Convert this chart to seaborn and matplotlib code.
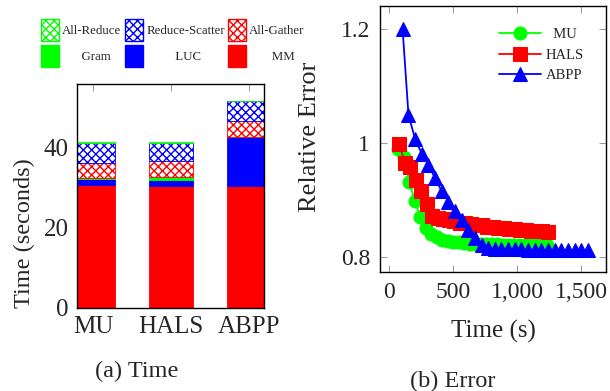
import numpy as np
import pandas as pd
import matplotlib
matplotlib.use("Agg")
import matplotlib.pyplot as plt
from matplotlib.patches import Patch
from matplotlib.ticker import FuncFormatter
import seaborn as sns

# ---------------- data ----------------
categories = ["MU", "HALS", "ABPP"]
mm = [30.8, 30.5, 30.4]
luc = [1.4, 1.5, 12.3]
gram = [0.2, 0.8, 0.1]
all_gather = [3.9, 3.9, 3.9]
reduce_scatter = [5.0, 4.6, 5.0]
all_reduce = [0.2, 0.2, 0.1]

mu_t = [70, 113, 156, 199, 242, 285, 328, 371, 414, 457, 500, 543, 586, 629,
        672, 715, 758, 801, 844, 887, 930, 973, 1016, 1059, 1102, 1145, 1188, 1231]
mu_err = [0.990, 0.976, 0.932, 0.898, 0.870, 0.851, 0.840, 0.834, 0.830, 0.828,
          0.826, 0.825, 0.824, 0.823, 0.823, 0.822, 0.822, 0.822, 0.822, 0.821,
          0.821, 0.821, 0.821, 0.821, 0.820, 0.820, 0.820, 0.820]
hals_t = [78, 121, 164, 207, 250, 293, 336, 379, 422, 465, 508, 551, 594, 637,
          680, 723, 766, 809, 852, 895, 938, 981, 1024, 1067, 1110, 1153, 1196, 1239]
hals_err = [0.998, 0.965, 0.958, 0.935, 0.915, 0.892, 0.872, 0.868, 0.866, 0.864,
            0.862, 0.860, 0.859, 0.857, 0.856, 0.855, 0.853, 0.852, 0.851, 0.850,
            0.849, 0.848, 0.847, 0.847, 0.846, 0.845, 0.845, 0.844]
abpp_t = [104, 150, 202, 254, 306, 358, 410, 462, 514, 566, 618, 670, 722, 774,
          826, 878, 930, 982, 1034, 1086, 1138, 1190, 1242, 1294, 1346, 1398,
          1450, 1502, 1554]
abpp_err = [1.200, 1.049, 1.007, 0.981, 0.961, 0.938, 0.915, 0.897, 0.880, 0.864,
            0.847, 0.833, 0.821, 0.815, 0.814, 0.814, 0.813, 0.813, 0.813, 0.812,
            0.812, 0.812, 0.812, 0.811, 0.811, 0.811, 0.811, 0.811, 0.811]

# ---------------- style ----------------
sns.set_style("ticks")
plt.rcParams["font.family"] = ["Liberation Serif", "DejaVu Serif"]
plt.rcParams["hatch.linewidth"] = 1.0
plt.rcParams["axes.linewidth"] = 1.0

GREEN = "#00ff00"
BLUE = "#0000ff"
RED = "#ff0000"

W, H = 610, 391
fig = plt.figure(figsize=(W / 100, H / 100), dpi=100)
ax1 = fig.add_axes([77 / W, 1 - 308 / H, 187 / W, 224 / H])
ax2 = fig.add_axes([380 / W, 1 - 272 / H, 226 / W, 266 / H])

# ---------------- stacked bars ----------------
layers = [
    ("MM", mm, RED, None),
    ("LUC", luc, BLUE, None),
    ("Gram", gram, GREEN, None),
    ("All-Gather", all_gather, RED, "xxxx"),
    ("Reduce-Scatter", reduce_scatter, BLUE, "xxxx"),
    ("All-Reduce", all_reduce, GREEN, "xxxx"),
]
bottom = np.zeros(len(categories))
for name, vals, col, hatch in layers:
    kws = dict(edgecolor=col, linewidth=0.6)
    if hatch:
        kws.update(facecolor="white", hatch=hatch)
    sns.barplot(x=categories, y=vals, bottom=bottom, color=col, width=0.56,
                saturation=1, errorbar=None, ax=ax1, **kws)
    bottom = bottom + np.array(vals)

ax1.set_xlim(-0.205, 2.19)
ax1.set_ylim(0, 56)
ax1.set_yticks([0, 20, 40])
ax1.tick_params(direction="in", top=True, right=True, labelsize=18, length=5,
                width=0.6, color="#888888")
ax1.tick_params(axis="x", pad=6)
ax1.tick_params(axis="y", pad=6)
ax1.set_ylabel("Time (seconds)", fontsize=17.5)
ax1.yaxis.set_label_coords(-0.225, 0.335)
ax1.set_xlabel("")
for s in ax1.spines.values():
    s.set_visible(True)
    s.set_color("black")

handles = [
    Patch(facecolor="white", edgecolor=GREEN, hatch="xxxx", label="All-Reduce"),
    Patch(facecolor=GREEN, edgecolor=GREEN, label="      Gram"),
    Patch(facecolor="white", edgecolor=BLUE, hatch="xxxx", label="Reduce-Scatter"),
    Patch(facecolor=BLUE, edgecolor=BLUE, label="         LUC"),
    Patch(facecolor="white", edgecolor=RED, hatch="xxxx", label="All-Gather"),
    Patch(facecolor=RED, edgecolor=RED, label="       MM"),
]
fig.legend(handles=handles, ncol=3, loc="upper left",
           bbox_to_anchor=(41 / W, 1 - 19 / H), frameon=False, fontsize=9.3,
           handlelength=1.4, handleheight=2.2, handletextpad=0.25,
           columnspacing=0.25, labelspacing=0.35, borderpad=0, borderaxespad=0)

# ---------------- error lines ----------------
sns.lineplot(x=mu_t, y=mu_err, ax=ax2, color=GREEN, marker="o", markersize=9.4,
             markeredgecolor=GREEN, linewidth=1.3, label="  MU")
sns.lineplot(x=hals_t, y=hals_err, ax=ax2, color=RED, marker="s", markersize=9.4,
             markeredgecolor=RED, linewidth=1.3, label="HALS")
sns.lineplot(x=abpp_t, y=abpp_err, ax=ax2, color=BLUE, marker="^", markersize=9.4,
             markeredgecolor=BLUE, linewidth=1.3, label="ABPP")

ax2.set_xlim(-73, 1696)
ax2.set_ylim(0.773, 1.241)
ax2.set_xticks([0, 500, 1000, 1500])
ax2.set_yticks([0.8, 1.0, 1.2])
ax2.xaxis.set_major_formatter(FuncFormatter(lambda v, p: f"{v:,.0f}"))
ax2.yaxis.set_major_formatter(FuncFormatter(lambda v, p: f"{v:g}"))
ax2.tick_params(direction="in", top=True, right=True, labelsize=17, length=5,
                width=0.6, color="#888888")
ax2.tick_params(axis="x", pad=7)
ax2.tick_params(axis="y", pad=7)
ax2.set_xlabel("Time (s)", fontsize=18)
ax2.set_ylabel("Relative Error", fontsize=19)
ax2.xaxis.set_label_coords(0.5, -0.18)
ax2.yaxis.set_label_coords(-0.262, 0.51)
for s in ax2.spines.values():
    s.set_visible(True)
    s.set_color("black")
ax2.legend(loc="upper right", bbox_to_anchor=(0.947, 0.955), frameon=False,
           fontsize=10.5, handlelength=2.9, handletextpad=0.3, labelspacing=0.5,
           borderpad=0.2)

# ---------------- captions ----------------
fig.text(137 / W, 1 - 371 / H, "(a) Time", ha="center", va="center", fontsize=17.5)
fig.text(453 / W, 1 - 381 / H, "(b) Error", ha="center", va="center", fontsize=17.5)

fig.savefig("out.png", dpi=100)
